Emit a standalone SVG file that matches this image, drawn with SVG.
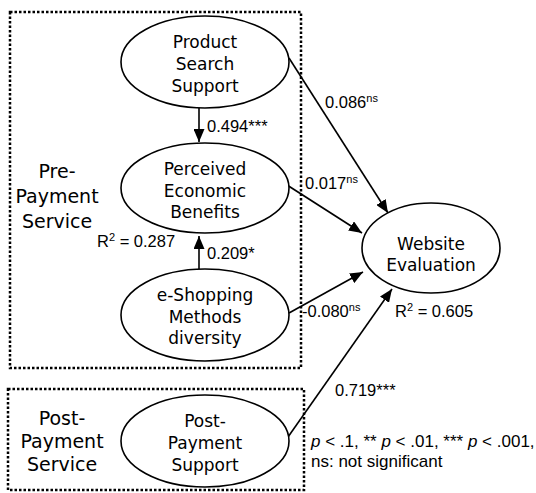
<svg xmlns="http://www.w3.org/2000/svg" width="536" height="493" viewBox="0 0 536 493">
<style>
.box{fill:none;stroke:#000;stroke-width:2.5;stroke-dasharray:2.5 2}
.node ellipse{fill:#fff;stroke:#000;stroke-width:1.6}
.nt{font-family:"DejaVu Sans",Verdana,sans-serif;font-size:17px;text-anchor:middle;fill:#000}
.gt{font-family:"DejaVu Sans",Verdana,sans-serif;font-size:19px;text-anchor:middle;fill:#000}
.lb{font-family:"Liberation Sans",Arial,sans-serif;font-size:16.5px;fill:#000}
.fn{font-family:"Liberation Sans",Arial,sans-serif;font-size:17px;fill:#000}
.sup{font-size:11px}
#connectors line{stroke:#000;stroke-width:1.6;marker-end:url(#ah)}
</style>
<defs>
<marker id="ah" markerUnits="userSpaceOnUse" markerWidth="13" markerHeight="11" refX="13" refY="5.5" orient="auto">
<path d="M0,0 L13,5.5 L0,11 z" fill="#000"/>
</marker>
</defs>
<rect width="536" height="493" fill="#fff"/>
<g id="group-pre">
<rect class="box" x="10" y="12" width="291" height="356"/>
<text class="gt" x="57" y="178">Pre-</text>
<text class="gt" x="57" y="203">Payment</text>
<text class="gt" x="57" y="228">Service</text>
</g>
<g id="group-post">
<rect class="box" x="8" y="389" width="296" height="101"/>
<text class="gt" x="62" y="425">Post-</text>
<text class="gt" x="62" y="448">Payment</text>
<text class="gt" x="62" y="471">Service</text>
</g>
<g id="connectors">
<line x1="199" y1="108" x2="199" y2="142"/>
<line x1="199" y1="269" x2="199" y2="236"/>
<line x1="289" y1="58" x2="388" y2="213"/>
<line x1="287" y1="185" x2="362" y2="233"/>
<line x1="289" y1="313" x2="363" y2="272"/>
<line x1="288" y1="437" x2="392" y2="289"/>
</g>
<g id="node-pss" class="node">
<ellipse cx="205" cy="62" rx="84" ry="46"/>
<text class="nt" x="205" y="48">Product</text>
<text class="nt" x="205" y="70">Search</text>
<text class="nt" x="205" y="92">Support</text>
</g>
<g id="node-peb" class="node">
<ellipse cx="205" cy="188" rx="84" ry="45"/>
<text class="nt" x="205" y="175">Perceived</text>
<text class="nt" x="205" y="197">Economic</text>
<text class="nt" x="205" y="218">Benefits</text>
</g>
<g id="node-esmd" class="node">
<ellipse cx="205" cy="315" rx="84" ry="46"/>
<text class="nt" x="205" y="301">e-Shopping</text>
<text class="nt" x="205" y="323">Methods</text>
<text class="nt" x="205" y="344">diversity</text>
</g>
<g id="node-we" class="node">
<ellipse cx="431" cy="248" rx="69" ry="45"/>
<text class="nt" x="431" y="250">Website</text>
<text class="nt" x="431" y="271">Evaluation</text>
</g>
<g id="node-pps" class="node">
<ellipse cx="205" cy="441" rx="84" ry="46"/>
<text class="nt" x="205" y="427">Post-</text>
<text class="nt" x="205" y="449">Payment</text>
<text class="nt" x="205" y="471">Support</text>
</g>
<g id="labels">
<text class="lb" x="207" y="132">0.494***</text>
<text class="lb" x="207" y="259">0.209*</text>
<text class="lb" x="97" y="247">R<tspan class="sup" dy="-6">2</tspan><tspan dy="6"> = 0.287</tspan></text>
<text class="lb" x="325" y="108">0.086<tspan class="sup" font-size="12" dy="-6">ns</tspan></text>
<text class="lb" x="305" y="189">0.017<tspan class="sup" font-size="12" dy="-6">ns</tspan></text>
<text class="lb" x="302" y="317">-0.080<tspan class="sup" font-size="12" dy="-6">ns</tspan></text>
<text class="lb" x="395" y="317">R<tspan class="sup" dy="-6">2</tspan><tspan dy="6"> = 0.605</tspan></text>
<text class="lb" x="335" y="396">0.719***</text>
<text class="fn" x="311" y="447"><tspan font-style="italic">p</tspan> &lt; .1, ** <tspan font-style="italic">p</tspan> &lt; .01, *** <tspan font-style="italic">p</tspan> &lt; .001,</text>
<text class="fn" x="311" y="467">ns: not significant</text>
</g>
</svg>
